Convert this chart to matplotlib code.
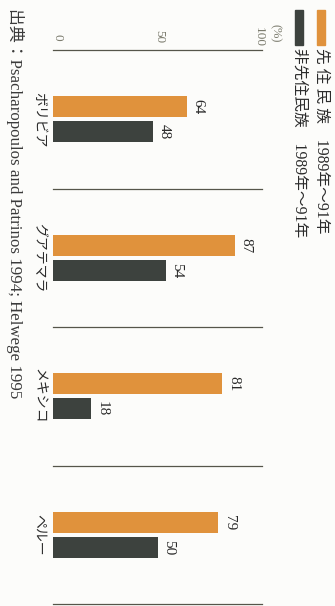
import matplotlib
matplotlib.use('Agg')
import matplotlib.pyplot as plt
import numpy as np
from matplotlib.patches import Rectangle

W, H = 335, 606

categories = ['ボリビア', 'グアテマラ', 'メキシコ', 'ペルー']
indigenous = [64, 87, 81, 79]
non_indigenous = [48, 54, 18, 50]
ticks = [0, 50, 100]
tick_labels = ['0', '50', '100']
legend_labels = ['先 住 民 族\u30001989年～91年', '非先住民族\u30001989年～91年']
unit_label = '(%)'
source = '出典：Psacharopoulos and Patrinos 1994; Helwege 1995'

ORANGE = '#e0923c'
DARK = '#3d423e'
TEXT = '#2b2b2b'
PALE = '#7c7c6e'
MIX = ['Liberation Serif', 'Noto Sans CJK JP']


def fx(x):
    return x / W


def fy(y):
    return 1 - y / H


fig = plt.figure(figsize=(W / 100, H / 100), dpi=100, facecolor='#fcfcfa')
ax = fig.add_axes([53 / W, 2 / H, 209 / W, 554 / H])
ax.set_xlim(0, 100)
ax.set_ylim(3.5, -0.5)
ax.axis('off')

y = np.arange(len(categories))
off = 0.09
hgt = 0.15
ax.barh(y - off, indigenous, height=hgt, color=ORANGE)
ax.barh(y + off, non_indigenous, height=hgt, color=DARK)

for b in np.arange(-0.5, len(categories), 1.0):
    ax.plot([0, 100], [b, b], color='#55554a', lw=0.9, clip_on=False)

for i, (a, b) in enumerate(zip(indigenous, non_indigenous)):
    ax.text(a + 2.2, i - off, str(a), rotation=-90, ha='left', va='center',
            fontsize=11, family='Liberation Serif', color=TEXT)
    ax.text(b + 2.2, i + off, str(b), rotation=-90, ha='left', va='center',
            fontsize=11, family='Liberation Serif', color=TEXT)
    ax.text(-6.5, i, categories[i], rotation=-90, ha='center', va='center',
            fontsize=10, family=['Noto Sans CJK JP'], color=TEXT, clip_on=False)

nudges = [2.0, 1.0, -1.5]
for t, lab, n in zip(ticks, tick_labels, nudges):
    ax.text(t + n, -0.594, lab, rotation=-90, ha='center', va='center',
            fontsize=9.5, family='Liberation Serif', color=PALE, clip_on=False)
fig.text(fx(275), fy(33), unit_label, rotation=-90, ha='center', va='center',
         fontsize=9, family='Liberation Serif', color=PALE)

# legend
for xc, col, lab in [(321, ORANGE, legend_labels[0]), (299, DARK, legend_labels[1])]:
    fig.patches.append(Rectangle((fx(xc - 4), fy(45)), 8 / W, 35 / H,
                                 transform=fig.transFigure, color=col))
    fig.text(fx(xc), fy(48), lab, rotation=-90, ha='center', va='top',
             fontsize=11.3, family=MIX, color=TEXT)

fig.text(fx(15), fy(8), source, rotation=-90, ha='center', va='top',
         fontsize=12.2, family=MIX, color='#3a3a3a')

fig.savefig('out.png', dpi=100, facecolor=fig.get_facecolor())
